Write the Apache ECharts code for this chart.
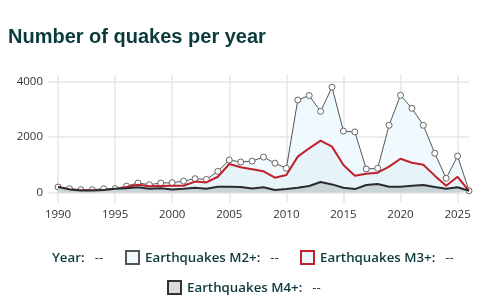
<!DOCTYPE html>
<html>
<head>
<meta charset="utf-8">
<script src="https://cdn.jsdelivr.net/npm/echarts@6/dist/echarts.min.js"></script>
<style>
  html, body { margin: 0; padding: 0; background: #fff; }
  #wrap { position: relative; width: 497px; height: 299px; overflow: hidden; }
  #chart { position: absolute; left: 0; top: 0; width: 497px; height: 299px; }
  .legend { position: absolute; left: 0; width: 497px; font-family: "Open Sans", sans-serif; font-weight: 600;
            font-size: 13.3px; color: #0d3a3a; white-space: nowrap; }
  .row { position: absolute; display: flex; align-items: center; }
  .box { width: 11px; height: 11px; border: 2px solid #555; margin-right: 5px; box-sizing: content-box; }
  .dash { margin-left: 10px; font-weight: 400; }
</style>
</head>
<body>
<div id="wrap">
  <div id="chart"></div>
  <div class="legend">
    <div class="row" style="left:52px; top:248px;">Year:<span class="dash">--</span></div>
    <div class="row" style="left:125px; top:248px;"><span class="box" style="background:#f3fafd;border-color:#555"></span>Earthquakes M2+:<span class="dash">--</span></div>
    <div class="row" style="left:300px; top:248px;"><span class="box" style="background:#eef8fc;border-color:#c0202a"></span>Earthquakes M3+:<span class="dash">--</span></div>
    <div class="row" style="left:167px; top:278px;"><span class="box" style="background:#dcdcdc;border-color:#333"></span>Earthquakes M4+:<span class="dash">--</span></div>
  </div>
</div>
<script>
var years = [];
for (var y = 1990; y <= 2026; y++) years.push(y);

var m2 = [205, 145, 110, 110, 145, 150, 240, 350, 290, 350,
          360, 420, 505, 480, 770, 1180, 1105, 1140, 1285, 1065,
          880, 3340, 3500, 2930, 3800, 2220, 2190, 855, 880, 2430,
          3510, 3040, 2430, 1420, 520, 1320, 70];
var m3 = [205, 120, 80, 80, 100, 100, 205, 290, 230, 245,
          250, 250, 400, 370, 575, 1035, 915, 845, 770, 540,
          640, 1300, 1600, 1875, 1660, 1000, 615, 685, 720, 940,
          1225, 1080, 1010, 615, 250, 575, 70];
var m4 = [205, 120, 80, 80, 100, 145, 165, 200, 145, 165,
          120, 145, 180, 145, 215, 215, 205, 155, 195, 100,
          130, 180, 240, 385, 300, 180, 130, 280, 315, 215,
          215, 250, 280, 205, 145, 195, 70];
var xTicks = [1990, 1995, 2000, 2005, 2010, 2015, 2020, 2025];
var yTicks = [0, 2000, 4000];

function pairs(vals) {
  return years.map(function (yr, i) { return [yr, vals[i]]; });
}

var myChart = echarts.init(document.getElementById('chart'));
var option = {
  animation: false,
  title: {
    text: 'Number of quakes per year',
    left: 3,
    top: 22,
    textStyle: {
      fontFamily: 'Liberation Sans',
      fontWeight: 'bold',
      fontSize: 20,
      color: '#0b3a3a'
    }
  },
  grid: { left: 48, right: 28, top: 75, bottom: 96 },
  xAxis: {
    type: 'value',
    min: 1989.12,
    max: 2026,
    axisLine: { show: false },
    axisTick: { show: false, customValues: xTicks },
    axisLabel: {
      customValues: xTicks,
      formatter: function (v) { return String(v); },
      color: '#333',
      fontFamily: 'Open Sans',
      fontSize: 11.5,
      margin: 6
    },
    splitLine: { show: true, lineStyle: { color: '#e6e6e6', width: 1.5 } }
  },
  yAxis: {
    type: 'value',
    min: -370,
    max: 4240,
    axisLine: { show: false },
    axisTick: { show: false, customValues: yTicks },
    axisLabel: {
      customValues: yTicks,
      formatter: function (v) { return String(v); },
      color: '#333',
      fontFamily: 'Open Sans',
      fontSize: 11.5,
      margin: 5
    },
    splitLine: { show: true, lineStyle: { color: '#e6e6e6', width: 1.5 } }
  },
  series: [
    {
      name: 'Earthquakes M2+',
      type: 'line',
      data: pairs(m2),
      symbol: 'circle',
      symbolSize: 6,
      showAllSymbol: true,
      z: 2,
      itemStyle: { color: '#fff', borderColor: '#666', borderWidth: 1 },
      lineStyle: { color: '#555', width: 1 },
      areaStyle: { color: '#f0f9fd', origin: 0, opacity: 1 }
    },
    {
      name: 'Earthquakes M3+',
      type: 'line',
      data: pairs(m3),
      symbol: 'none',
      z: 3,
      lineStyle: { color: '#c0202a', width: 2 },
      areaStyle: { color: '#e6f4fa', origin: 0, opacity: 1 }
    },
    {
      name: 'Earthquakes M4+',
      type: 'line',
      data: pairs(m4),
      symbol: 'none',
      z: 4,
      lineStyle: { color: '#2b2b2b', width: 2 },
      areaStyle: { color: '#c9d4d9', origin: 0, opacity: 1 }
    }
  ]
};
myChart.setOption(option);
</script>
</body>
</html>
